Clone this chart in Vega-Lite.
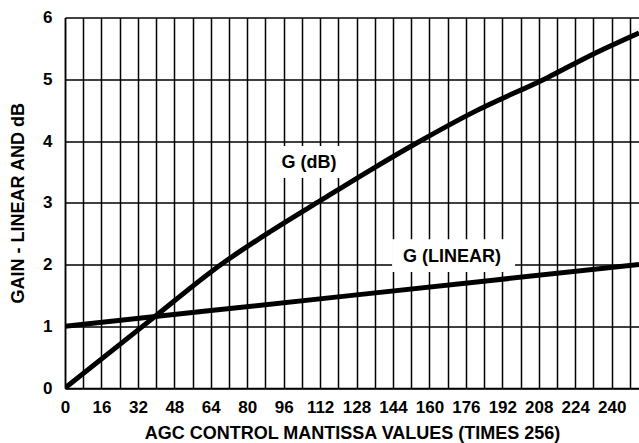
{
  "$schema": "https://vega.github.io/schema/vega-lite/v6.json",
  "width": 574,
  "height": 370.5,
  "autosize": {"type": "none"},
  "padding": {"left": 65, "top": 17.5, "right": 0, "bottom": 55},
  "background": "white",
  "config": {
    "view": {"stroke": null},
    "font": "Liberation Sans",
    "axis": {
      "grid": true,
      "gridColor": "black",
      "gridWidth": 1.5,
      "gridOpacity": 1,
      "domainColor": "black",
      "domainWidth": 1.5,
      "ticks": false,
      "tickSize": 0,
      "labelFont": "Liberation Sans",
      "labelFontSize": 17,
      "labelFontWeight": "bold",
      "labelColor": "black",
      "labelFlush": false,
      "labelOverlap": false,
      "titleFont": "Liberation Sans",
      "titleFontSize": 18,
      "titleFontWeight": "bold",
      "titleColor": "black"
    }
  },
  "datasets": {
    "curves": [
      {"series": "G (dB)", "x": 0, "y": 0},
      {"series": "G (dB)", "x": 38.2, "y": 1.12},
      {"series": "G (dB)", "x": 68.5, "y": 2.0},
      {"series": "G (dB)", "x": 90, "y": 2.53},
      {"series": "G (dB)", "x": 112.8, "y": 3.05},
      {"series": "G (dB)", "x": 135, "y": 3.55},
      {"series": "G (dB)", "x": 155, "y": 3.98},
      {"series": "G (dB)", "x": 180, "y": 4.48},
      {"series": "G (dB)", "x": 212, "y": 5.03},
      {"series": "G (dB)", "x": 232, "y": 5.41},
      {"series": "G (dB)", "x": 252, "y": 5.75},
      {"series": "G (LINEAR)", "x": 0, "y": 1.0},
      {"series": "G (LINEAR)", "x": 126, "y": 1.5},
      {"series": "G (LINEAR)", "x": 252, "y": 2.0}
    ],
    "boxes": [
      {"x": 90.9, "x2": 125.1, "y": 3.40, "y2": 3.92},
      {"x": 143.6, "x2": 197.6, "y": 1.88, "y2": 2.41}
    ],
    "labels": [
      {"label": "G (dB)", "x": 107.1, "y": 3.64},
      {"label": "G (LINEAR)", "x": 169.9, "y": 2.12}
    ]
  },
  "encoding": {
    "x": {
      "field": "x",
      "type": "quantitative",
      "scale": {"domain": [0, 252], "nice": false, "zero": false},
      "axis": {
        "values": [0, 8, 16, 24, 32, 40, 48, 56, 64, 72, 80, 88, 96, 104, 112, 120, 128, 136, 144, 152, 160, 168, 176, 184, 192, 200, 208, 216, 224, 232, 240, 248],
        "labelExpr": "datum.value % 16 == 0 ? datum.label : ''",
        "labelPadding": 11,
        "titlePadding": 9
      },
      "title": "AGC CONTROL MANTISSA VALUES (TIMES 256)"
    },
    "y": {
      "field": "y",
      "type": "quantitative",
      "scale": {"domain": [0, 6], "nice": false},
      "axis": {
        "values": [0, 1, 2, 3, 4, 5, 6],
        "format": "d",
        "labelPadding": 13,
        "titlePadding": 15
      },
      "title": "GAIN - LINEAR AND dB"
    }
  },
  "layer": [
    {
      "data": {"name": "boxes"},
      "mark": {"type": "rect", "fill": "white", "stroke": null},
      "encoding": {
        "x2": {"field": "x2"},
        "y2": {"field": "y2"}
      }
    },
    {
      "data": {"name": "curves"},
      "mark": {"type": "line", "color": "black", "strokeWidth": 5, "interpolate": "monotone", "clip": true},
      "encoding": {
        "detail": {"field": "series"}
      }
    },
    {
      "data": {"name": "labels"},
      "mark": {"type": "text", "font": "Liberation Sans", "fontSize": 18, "fontWeight": "bold", "color": "black", "align": "center", "baseline": "middle"},
      "encoding": {
        "text": {"field": "label"}
      }
    }
  ]
}
